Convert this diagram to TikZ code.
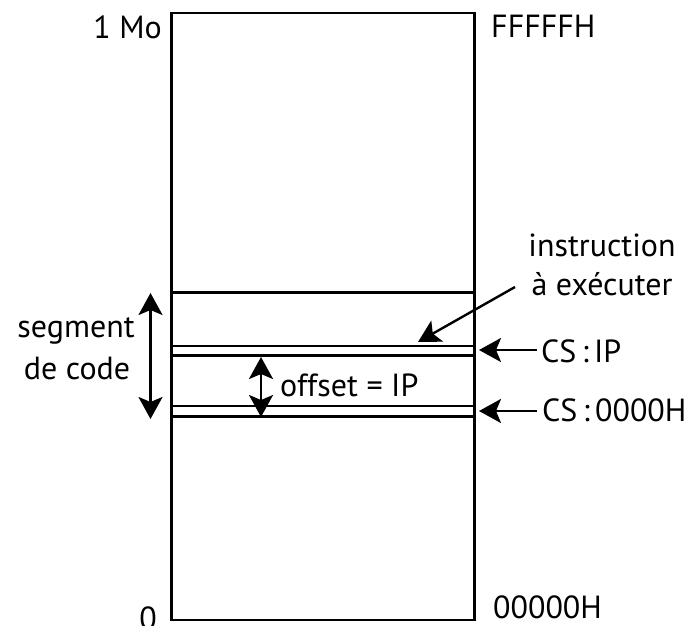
\documentclass[tikz,border=0pt]{standalone}
\usepackage{fontspec}
\setmainfont{PT Sans}
\usetikzlibrary{arrows.meta}
\begin{document}
\begin{tikzpicture}[x=1pt,y=-1pt,
  lbl/.style={font=\fontsize{32}{35}\selectfont, inner sep=0pt},
  wall/.style={line width=2.7pt},
  tip/.style={-{Stealth[length=22pt,width=24pt,inset=5pt]}, line width=2.4pt},
  dtip/.style={{Stealth[length=22pt,width=24pt,inset=5pt]}-{Stealth[length=22pt,width=24pt,inset=5pt]}, line width=2.4pt}]
\useasboundingbox (0,0) rectangle (693,626);
% memory box
\coordinate (tl) at (171.5,13);
\coordinate (br) at (474.5,620);
\draw[wall] (tl) rectangle (br);
% horizontal lines
\coordinate (s1l) at (171.5,292.3); \coordinate (s1r) at (474.5,292.3);
\coordinate (a1l) at (171.5,346); \coordinate (a1r) at (474.5,346);
\coordinate (a2l) at (171.5,355.7); \coordinate (a2r) at (474.5,355.7);
\coordinate (b1l) at (171.5,406); \coordinate (b1r) at (474.5,406);
\coordinate (b2l) at (171.5,416.7); \coordinate (b2r) at (474.5,416.7);
\draw[wall] (s1l) -- (s1r);
\draw[wall] (a1l) -- (a1r);
\draw[wall] (a2l) -- (a2r);
\draw[wall] (b1l) -- (b1r);
\draw[wall] (b2l) -- (b2r);
% labels
\node[lbl, anchor=base east] (mo) at (162,39) {1 Mo};
\node[lbl, anchor=base west] (ff) at (491,37.3) {FFFFFH};
\node[lbl, anchor=base] (zero) at (148,629) {0};
\node[lbl, anchor=base west] (zz) at (493,618) {00000H};
\node[lbl, anchor=base] (ins1) at (602,256) {instruction};
\node[lbl, anchor=base] (ins2) at (602,295) {à exécuter};
\node[lbl, anchor=base] (seg1) at (76,337) {segment};
\node[lbl, anchor=base] (seg2) at (77,379) {de code};
\node[lbl, anchor=base west] (csip) at (541,362.7) {CS\,:\,IP};
\node[lbl, anchor=base west] (cs0) at (542,421.7) {CS\,:\,0000H};
\node[lbl, anchor=base west] (off) at (280,396.7) {offset = IP};
% arrows
\coordinate (insT) at (515,287);
\coordinate (insH) at (418,342);
\draw[tip] (insT) -- (insH);
\coordinate (ipT) at (537,350);
\coordinate (ipH) at (479,350);
\draw[tip] (ipT) -- (ipH);
\coordinate (c0T) at (537,411);
\coordinate (c0H) at (479,411);
\draw[tip] (c0T) -- (c0H);
\coordinate (sgA) at (150.5,293);
\coordinate (sgB) at (150.5,419);
\draw[dtip] (sgA) -- (sgB);
\coordinate (ofA) at (261,357);
\coordinate (ofB) at (261,417);
\draw[dtip] (ofA) -- (ofB);
\end{tikzpicture}
\end{document}
